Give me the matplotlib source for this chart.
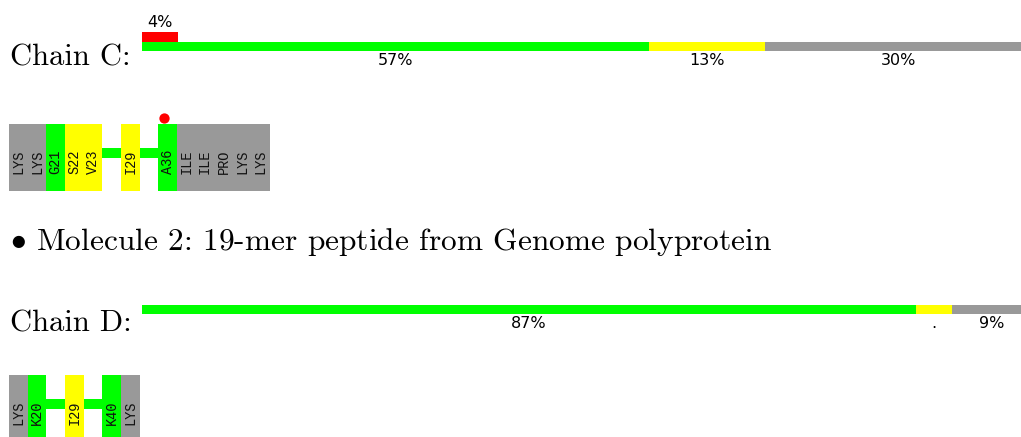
import matplotlib

matplotlib.use("Agg")
import matplotlib.pyplot as plt

# ---- data ------------------------------------------------------------------
CHAIN_C_PCT = [57, 13, 30]
CHAIN_C_LABELS = ["57%", "13%", "30%"]
CHAIN_C_OUTLIER_PCT = [4]
CHAIN_C_OUTLIER_LABELS = ["4%"]
CHAIN_D_PCT = [87, 4, 9]
CHAIN_D_LABELS = ["87%", ".", "9%"]

CHAIN_C_RESIDUES = ["LYS", "LYS", "G21", "S22", "V23", "", "I29", "", "A36",
                    "ILE", "ILE", "PRO", "LYS", "LYS"]
CHAIN_C_CLASSES = ["other", "other", "good", "warn", "warn", "gap", "warn",
                   "gap", "good", "other", "other", "other", "other", "other"]
CHAIN_C_MARKED = ["A36"]

CHAIN_D_RESIDUES = ["LYS", "K20", "", "I29", "", "K40", "LYS"]
CHAIN_D_CLASSES = ["other", "good", "gap", "warn", "gap", "good", "other"]
CHAIN_D_MARKED = []

SEG_COLORS = ["#00FF00", "#FFFF00", "#999999"]
CLASS_COLORS = {"good": "#00FF00", "warn": "#FFFF00", "other": "#999999"}
RED = "#FF0000"

W, H = 1021, 437
plt.rcParams["mathtext.fontset"] = "cm"
SERIF = "cmr10"
MONO = "Liberation Mono"


def px_axes(fig, x0, y0, x1, y1):
    """Axes placed by figure pixel box (top-left origin)."""
    ax = fig.add_axes([x0 / W, 1 - y1 / H, (x1 - x0) / W, (y1 - y0) / H])
    ax.axis("off")
    return ax


def summary_bar(fig, y_top, y_bot, pcts, labels, out_pcts=None, out_labels=None):
    # bar runs past the right edge of the page, as in the report
    row = y_bot - y_top
    top = y_top - row if out_pcts else y_top
    ax = px_axes(fig, 142, top, 1032, y_bot)
    ax.set_xlim(0, 100)
    ax.set_ylim(0, 2 if out_pcts else 1)
    left = 0
    for v, c, lab in zip(pcts, SEG_COLORS, labels):
        ax.barh(0.5, v, left=left, height=1, color=c, linewidth=0)
        ax.text(left + v / 2, -1.05, lab, ha="center", va="center",
                fontsize=11.5, color="black")
        left += v
    if out_pcts:
        left = 0
        for v, lab in zip(out_pcts, out_labels):
            ax.barh(1.5, v, left=left, height=1, color=RED, linewidth=0)
            ax.text(left + v / 2, 2.95, lab, ha="center", va="center",
                    fontsize=11.5, color="black")
            left += v


def residue_strip(fig, y_top, residues, classes, marked):
    n = len(residues)
    ax = px_axes(fig, 9, y_top, 9 + 18.65 * n, y_top + 67)
    ax.set_xlim(0, n)
    ax.set_ylim(0, 1)
    for i, (res, cls) in enumerate(zip(residues, classes)):
        if cls == "gap":
            ax.bar(i, 0.15, bottom=0.49, width=1, align="edge",
                   color=CLASS_COLORS["good"], linewidth=0)
            continue
        ax.bar(i, 1, width=1, align="edge", color=CLASS_COLORS[cls],
               linewidth=0)
        ax.text(i + 0.5, 0.43, res, rotation=90, ha="center", va="center",
                fontsize=9.8, family=MONO, color="#111111")
        if res in marked:
            ax.scatter([i + 0.3], [1.09], s=55, color=RED, clip_on=False,
                       linewidths=0)


fig = plt.figure(figsize=(W / 100, H / 100), dpi=100)


def fig_text(x, y, s, size=22):
    fig.text(x / W, 1 - y / H, s, va="baseline", ha="left",
             fontsize=size, family=SERIF)


fig_text(10, 65, "Chain C:")
summary_bar(fig, 41.5, 51, CHAIN_C_PCT, CHAIN_C_LABELS,
            CHAIN_C_OUTLIER_PCT, CHAIN_C_OUTLIER_LABELS)
residue_strip(fig, 124, CHAIN_C_RESIDUES, CHAIN_C_CLASSES, CHAIN_C_MARKED)

fig_text(10, 250, r"$\bullet$ Molecule 2: 19-mer peptide from Genome polyprotein",
         size=22.6)

fig_text(10, 331, "Chain D:")
summary_bar(fig, 305, 314, CHAIN_D_PCT, CHAIN_D_LABELS)
residue_strip(fig, 375, CHAIN_D_RESIDUES, CHAIN_D_CLASSES, CHAIN_D_MARKED)

fig.savefig("out.png", dpi=100)
